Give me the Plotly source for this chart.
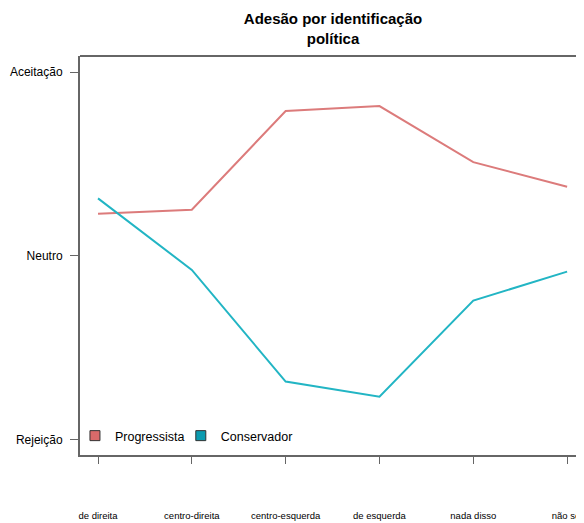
import plotly.graph_objects as go

categories = ["de direita", "centro-direita", "centro-esquerda", "de esquerda", "nada disso", "não sei"]
progressista = [0.229, 0.251, 0.788, 0.815, 0.510, 0.376]
conservador = [0.313, -0.076, -0.683, -0.765, -0.243, -0.085]
y_tick_vals = [-1, 0, 1]
y_tick_text = ["Rejeição", "Neutro", "Aceitação"]

red_line = "#DC7B7B"
teal_line = "#22B5C4"
red_fill = "#D86A6A"
teal_fill = "#0B9BB0"

FONT = "Liberation Sans, Arial, sans-serif"
xs = list(range(len(categories)))

# the page body adds an 8px offset, so the figure is made smaller
W, H = 576, 515

fig = go.Figure()
fig.add_trace(go.Scatter(x=xs, y=progressista, mode="lines", line=dict(color=red_line, width=2),
                         showlegend=False, hoverinfo="skip"))
fig.add_trace(go.Scatter(x=xs, y=conservador, mode="lines", line=dict(color=teal_line, width=2),
                         showlegend=False, hoverinfo="skip"))
fig.add_trace(go.Scatter(x=[None], y=[None], mode="markers", name="Progressista", legend="legend",
                         marker=dict(symbol="square", size=10, color=red_fill, line=dict(color="#333", width=1))))
fig.add_trace(go.Scatter(x=[None], y=[None], mode="markers", name="Conservador", legend="legend2",
                         marker=dict(symbol="square", size=10, color=teal_fill, line=dict(color="#333", width=1))))

legend_common = dict(orientation="h", y=0.01, xanchor="left", yanchor="bottom",
                     bgcolor="rgba(0,0,0,0)", font=dict(size=12.5, family=FONT),
                     itemwidth=30, tracegroupgap=0)

fig.update_layout(
    width=W, height=H,
    margin=dict(l=72, r=0, t=48, b=H - 447, autoexpand=False),
    paper_bgcolor="white", plot_bgcolor="white",
    font=dict(family=FONT, color="black", size=12),
    title=dict(text="<b>Adesão por identificação<br>política</b>", x=325 / W, xref="container",
               xanchor="center", y=1 - 16 / H, yref="container", yanchor="middle",
               font=dict(size=15, family=FONT)),
    showlegend=True,
    legend=dict(x=-0.01, **legend_common),
    legend2=dict(x=0.2, **legend_common),
    xaxis=dict(range=[-0.192, 5.18], tickvals=xs, ticktext=categories, showgrid=False, zeroline=False,
               automargin=False,
               showline=True, linecolor="#666", linewidth=2, ticks="outside", ticklen=7, tickwidth=1,
               tickcolor="#666", tickfont=dict(size=9.5, family=FONT), ticklabelstandoff=44),
    yaxis=dict(range=[-1.082, 1.087], tickvals=y_tick_vals, ticktext=y_tick_text, showgrid=False,
               automargin=False,
               zeroline=False, showline=True, linecolor="#666", linewidth=2, ticks="outside", ticklen=8,
               tickwidth=1, tickcolor="#666", tickfont=dict(size=12, family=FONT), ticklabelstandoff=5),
    shapes=[dict(type="line", xref="paper", yref="paper", x0=0, x1=1, y0=1, y1=1,
                 line=dict(color="#666", width=2))],
)

fig.write_html("out.html")
